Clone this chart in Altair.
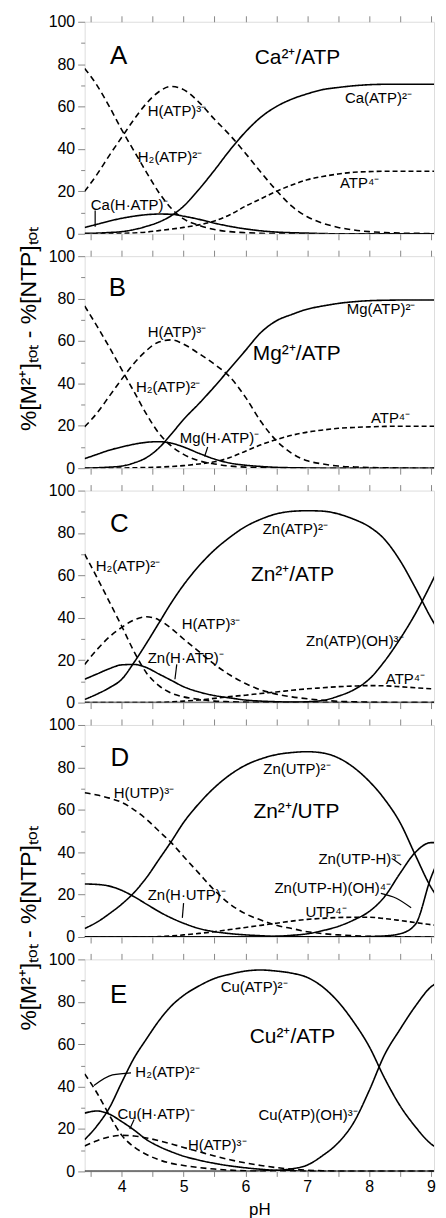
import altair as alt
import pandas as pd

# ---------------- data ----------------
PH = [3.4, 3.6, 3.8, 4.0, 4.2, 4.4, 4.6, 4.8, 5.0, 5.25, 5.5, 5.75, 6.0,
      6.25, 6.5, 6.75, 7.0, 7.25, 7.5, 7.75, 8.0, 8.25, 8.5, 8.75, 9.0, 9.1]

Z9 = [0] * 9

# Panel A  Ca2+/ATP
A_CaATP = [0.2, 0.3, 0.6, 1.0, 2.0, 3.5, 5.5, 8.5, 13, 21, 30, 39.5, 48, 55, 60, 63.5, 66,
           68, 69, 69.8, 70.3, 70.5, 70.5, 70.5, 70.5, 70.5]
A_HATP = [20, 28, 37, 45.5, 54, 61.5, 67, 69.5, 68, 62, 54, 46.5, 38, 29, 20.5, 13, 8,
          5, 3, 1.8, 1, 0.6, 0.3, 0.2, 0.1, 0.1]
A_H2ATP = [78, 70, 60, 49, 39, 29, 19.5, 12, 7, 4, 2, 1, 0.5, 0.2, 0.1, 0, 0] + Z9
A_ATP4 = [0, 0, 0.1, 0.2, 0.4, 0.8, 1.5, 2.2, 3, 4.2, 6, 9, 13, 16.5, 20, 23, 25.5,
          27, 28.2, 29, 29.3, 29.5, 29.5, 29.5, 29.5, 29.5]
A_CaHATP = [3, 4.5, 6, 7.3, 8.3, 9, 9.3, 9.2, 8.3, 6.8, 5, 3.5, 2.3, 1.4, 0.8, 0.5, 0.3,
            0.1, 0, 0, 0, 0, 0, 0, 0, 0]

# Panel B  Mg2+/ATP
B_MgATP = [0, 0.2, 0.5, 1, 2.5, 5, 9.5, 16, 23, 30.5, 38.5, 47, 55.5, 64, 69.5, 72.5, 75,
           76.5, 77.7, 78.5, 79, 79.2, 79.3, 79.3, 79.3, 79.3]
B_HATP = [19.5, 26, 34, 42, 49.5, 55.5, 59.5, 60.5, 58.5, 54, 49, 43, 33.5, 22, 13, 7, 3.5,
          2, 1, 0.6, 0.3, 0.2, 0.1, 0, 0, 0]
B_H2ATP = [76.5, 67, 57, 46.5, 36, 25.5, 16.5, 10.5, 6.5, 3.5, 2, 1, 0.5, 0.3, 0.1, 0, 0] + Z9
B_ATP4 = [0, 0, 0, 0.1, 0.2, 0.3, 0.5, 0.8, 1.2, 2, 3, 5, 8, 11, 13.5, 15.5, 17,
          18, 18.8, 19.2, 19.5, 19.7, 19.8, 19.8, 19.8, 19.8]
B_MgHATP = [4.5, 6.5, 8.5, 10, 11.3, 12.2, 12.5, 11.8, 10, 7, 4.3, 2.4, 1.4, 0.8, 0.4, 0.2, 0.1] + Z9

# Panel C  Zn2+/ATP
C_ZnATP = [1.5, 4, 7, 11, 19, 28, 37.5, 47, 55.5, 64.5, 72, 78, 83, 86.5, 89, 90.2, 90.5,
           90.3, 89, 86.5, 83, 77, 67, 54, 40, 35]
C_ZnATPOH = Z9 + [0, 0, 0, 0, 0, 0.1, 0.2, 0.4, 1, 3, 6, 11, 19.5, 30, 42, 56, 62]
C_H2ATP = [70, 59, 47.5, 36, 24, 14, 8, 4.5, 2.7, 1.5, 0.7, 0.4, 0.2, 0.1, 0, 0, 0] + Z9
C_HATP = [18, 25, 31, 35.5, 39, 40.5, 39, 35, 30, 24, 18, 13, 9, 6, 4, 2.7, 1.8,
          1.1, 0.6, 0.4, 0.2, 0.1, 0, 0, 0, 0]
C_ZnHATP = [11, 13.5, 16, 17.8, 18, 16.5, 13.5, 10.5, 7.5, 5, 3.3, 2.2, 1.2, 0.7, 0.4, 0.2, 0.1] + Z9
C_ATP4 = [0, 0, 0, 0, 0, 0, 0.1, 0.3, 0.7, 1.2, 2, 2.8, 3.5, 4.3, 5, 5.8, 6.5,
          7, 7.5, 7.8, 8, 7.9, 7.5, 7, 6.5, 6.3]

# Panel D  Zn2+/UTP
D_ZnUTP = [4, 7, 11, 15.5, 21, 28, 36.5, 45, 54, 63, 70.5, 76.5, 81, 84, 86, 87, 87.4,
           86.8, 84.5, 80, 73.5, 65, 54, 38.5, 23.5, 19]
D_ZnUTPH = Z9 + [0, 0, 0, 0, 0, 0.3, 0.8, 1.5, 3, 5, 8, 12, 19, 30, 40, 44.5, 44.5]
D_ZnUTPHOH = Z9 + [0] * 8 + [0, 0, 0, 0.2, 0.5, 1.5, 6, 28, 35]
D_HUTP = [68, 67, 65.5, 63.5, 60, 55.5, 50, 44.5, 38, 30, 22, 15.5, 11, 8, 5.5, 4, 2.5,
          1.6, 1, 0.6, 0.3, 0.2, 0.1, 0, 0, 0]
D_ZnHUTP = [25, 24.8, 24, 22, 19, 15.5, 12, 9, 6.5, 4, 2.5, 1.6, 1, 0.6, 0.3, 0.2, 0.1] + Z9
D_UTP4 = [0, 0, 0, 0, 0, 0, 0.2, 0.5, 1, 1.7, 2.5, 3.5, 4.5, 5.5, 6.5, 7.5, 8.3,
          8.8, 9.2, 9.3, 9.3, 8.7, 7.8, 6.8, 5.8, 5.5]

# Panel E  Cu2+/ATP
E_CuATP = [15, 21.5, 30, 42, 53.5, 62.5, 71, 78, 83, 87.5, 91, 93, 94.5, 95, 94.5, 93.5, 91.5,
           87, 80, 70.5, 59, 44, 31, 21, 13, 11]
E_CuATPOH = Z9 + [0, 0, 0, 0, 0.2, 0.5, 1.2, 3, 7.5, 13.5, 23, 38, 55, 67, 78, 87, 89]
E_H2ATP = [46, 37, 26.5, 17, 11.5, 8, 5.5, 3.8, 2.8, 1.8, 1.1, 0.6, 0.3, 0.1, 0, 0, 0] + Z9
E_CuHATP = [27.5, 28.5, 27, 23.5, 19.5, 15, 11.8, 9.3, 7.2, 5.3, 3.8, 2.6, 1.7, 1, 0.5, 0.3, 0.1] + Z9
E_HATP = [12, 14.5, 16.3, 17, 16.7, 15.8, 14.5, 13, 11.3, 9.3, 7.3, 5.5, 4, 2.8, 1.8, 1.1, 0.6,
          0.3, 0.1, 0, 0, 0, 0, 0, 0, 0]

# annotation labels: (text, pH at left edge, value at middle, font size)
A_LABELS = [("A", 3.81, 84, 26), ("Ca²⁺/ATP", 6.15, 83, 21), ("Ca(ATP)²⁻", 7.61, 64, 15),
            ("H(ATP)³⁻", 4.42, 58, 15), ("H₂(ATP)²⁻", 4.26, 36.4, 15), ("ATP⁴⁻", 7.53, 24, 15),
            ("Ca(H·ATP)⁻", 3.5, 13.6, 15)]
B_LABELS = [("B", 3.79, 85, 26), ("Mg(ATP)²⁻", 7.64, 75, 15), ("Mg²⁺/ATP", 6.12, 54, 21),
            ("H(ATP)³⁻", 4.42, 64, 15), ("H₂(ATP)²⁻", 4.23, 38.5, 15), ("ATP⁴⁻", 8.03, 23.7, 15),
            ("Mg(H·ATP)⁻", 4.94, 14.3, 15)]
C_LABELS = [("C", 3.81, 84, 26), ("Zn(ATP)²⁻", 6.28, 82, 15), ("Zn²⁺/ATP", 6.09, 60, 21),
            ("H₂(ATP)²⁻", 3.58, 64.6, 15), ("H(ATP)³⁻", 4.97, 37, 15),
            ("Zn(ATP)(OH)³⁻", 6.98, 29, 15), ("Zn(H·ATP)⁻", 4.42, 20.8, 15), ("ATP⁴⁻", 8.27, 11, 15)]
D_LABELS = [("D", 3.82, 84.4, 26), ("Zn(UTP)²⁻", 6.29, 79, 15), ("Zn²⁺/UTP", 6.13, 59, 21),
            ("H(UTP)³⁻", 3.87, 68, 15), ("Zn(H·UTP)⁻", 4.42, 19.6, 15),
            ("Zn(UTP-H)³⁻", 7.18, 37, 15), ("Zn(UTP-H)(OH)⁴⁻", 6.47, 23, 15), ("UTP⁴⁻", 6.97, 11.6, 15)]
E_LABELS = [("E", 3.81, 83, 26), ("Cu(ATP)²⁻", 5.6, 87, 15), ("Cu²⁺/ATP", 6.07, 63.4, 21),
            ("H₂(ATP)²⁻", 4.22, 47, 15), ("Cu(H·ATP)⁻", 3.93, 27, 15), ("H(ATP)³⁻", 5.07, 12.3, 15),
            ("Cu(ATP)(OH)³⁻", 6.21, 26.4, 15)]

# pointer lines from labels to curves: (id, pH, value)
A_PTR = [(1, 3.57, 11), (1, 3.57, 3.3)]
B_PTR = [(1, 5.39, 10), (1, 5.34, 5.5)]
C_PTR = [(1, 4.89, 18), (1, 4.86, 11)]
D_PTR = [(1, 5.0, 16), (1, 4.98, 9), (2, 8.39, 36.7), (2, 8.52, 34),
         (3, 8.19, 20.6), (3, 8.44, 18.3), (3, 8.68, 13.8)]
E_PTR = [(1, 4.15, 46.5), (1, 3.85, 45.5), (1, 3.55, 40.5), (2, 4.2, 24.5), (2, 4.13, 20)]

X_TICKS = [3.5, 4.0, 4.5, 5.0, 5.5, 6.0, 6.5, 7.0, 7.5, 8.0, 8.5, 9.0]
Y_TICKS = [0, 10, 20, 30, 40, 50, 60, 70, 80, 90, 100]
Y_TITLE = "%[M²⁺]ₜₒₜ - %[NTP]ₜₒₜ"

FONT = "Liberation Sans"
W, H = 351, 213
X_DOMAIN = [3.4, 9.05]


def make_panel(series, labels, pointers, last=False, ytitle_y=None):
    rows = []
    for name, style, vals in series:
        for p, v in zip(PH, vals):
            rows.append({"pH": p, "value": v, "species": name, "style": style})
    df = pd.DataFrame(rows)

    xs = alt.Scale(domain=X_DOMAIN, nice=False, zero=False)
    ys = alt.Scale(domain=[0, 100], nice=False)
    if last:
        xaxis = alt.Axis(values=X_TICKS, title="pH", domain=False, grid=False, tickSize=5,
                         labelExpr="datum.value % 1 === 0 ? format(datum.value, 'd') : ''",
                         labelFontSize=16, labelPadding=2, titleFontSize=17,
                         titleFontWeight="normal", titlePadding=7)
    else:
        xaxis = alt.Axis(values=X_TICKS, title=None, labels=False, domain=False, grid=False,
                         tickSize=6)
    yaxis = alt.Axis(values=Y_TICKS, title=None, domain=False, grid=False,
                     labelExpr="datum.value % 20 === 0 ? datum.label : ''",
                     tickSize={"condition": {"test": "datum.value % 20 === 0", "value": 7}, "value": 4},
                     labelFontSize=16, labelPadding=3)
    X = alt.X("pH:Q", scale=xs, axis=xaxis)
    Y = alt.Y("value:Q", scale=ys, axis=yaxis)

    lines = alt.Chart(df).mark_line(color="black", strokeWidth=1.6, interpolate="monotone",
                                    clip=True).encode(
        x=X, y=Y, detail="species:N",
        strokeDash=alt.StrokeDash("style:N", legend=None,
                                  scale=alt.Scale(domain=["solid", "dash", "short"],
                                                  range=[[1, 0], [6, 4], [5, 3]])))
    ldf = pd.DataFrame(labels, columns=["text", "pH", "value", "fs"])
    texts = alt.Chart(ldf).mark_text(align="left", baseline="middle", color="black",
                                     font=FONT).encode(
        x=X, y=Y, text="text:N", size=alt.Size("fs:Q", scale=None))
    pdf = pd.DataFrame(pointers, columns=["pid", "pH", "value"])
    pdf["ord"] = range(len(pdf))
    ptr = alt.Chart(pdf).mark_line(color="black", strokeWidth=1.2, interpolate="monotone").encode(
        x=X, y=Y, detail="pid:N", order="ord:Q")
    layers = [lines, texts, ptr]
    if ytitle_y is not None:
        tdf = pd.DataFrame({"t": [Y_TITLE]})
        layers.append(alt.Chart(tdf).mark_text(angle=270, align="center", baseline="middle",
                                               fontSize=23, font=FONT, color="black").encode(
            text="t:N", x=alt.value(-56), y=alt.value(ytitle_y)))
    inner = alt.layer(*layers)
    top = alt.Chart(df).mark_rule(opacity=0).encode(
        x=alt.X("pH:Q", scale=xs,
                axis=alt.Axis(orient="top", values=X_TICKS, labels=False, title=None,
                              domain=False, grid=False, tickSize=6)))
    return alt.layer(inner, top).resolve_axis(x="independent").properties(width=W, height=H)


pA = make_panel([("Ca(ATP)", "solid", A_CaATP), ("H(ATP)", "dash", A_HATP),
                 ("H2(ATP)", "dash", A_H2ATP), ("ATP", "short", A_ATP4),
                 ("Ca(H-ATP)", "solid", A_CaHATP)], A_LABELS, A_PTR)
pB = make_panel([("Mg(ATP)", "solid", B_MgATP), ("H(ATP)", "dash", B_HATP),
                 ("H2(ATP)", "dash", B_H2ATP), ("ATP", "short", B_ATP4),
                 ("Mg(H-ATP)", "solid", B_MgHATP)], B_LABELS, B_PTR, ytitle_y=73)
pC = make_panel([("Zn(ATP)", "solid", C_ZnATP), ("Zn(ATP)(OH)", "solid", C_ZnATPOH),
                 ("H2(ATP)", "dash", C_H2ATP), ("H(ATP)", "dash", C_HATP),
                 ("Zn(H-ATP)", "solid", C_ZnHATP), ("ATP", "short", C_ATP4)], C_LABELS, C_PTR)
pD = make_panel([("Zn(UTP)", "solid", D_ZnUTP), ("Zn(UTP-H)", "solid", D_ZnUTPH),
                 ("Zn(UTP-H)(OH)", "solid", D_ZnUTPHOH), ("H(UTP)", "dash", D_HUTP),
                 ("Zn(H-UTP)", "solid", D_ZnHUTP), ("UTP", "short", D_UTP4)], D_LABELS, D_PTR)
pE = make_panel([("Cu(ATP)", "solid", E_CuATP), ("Cu(ATP)(OH)", "solid", E_CuATPOH),
                 ("H2(ATP)", "dash", E_H2ATP), ("Cu(H-ATP)", "solid", E_CuHATP),
                 ("H(ATP)", "dash", E_HATP)], E_LABELS, E_PTR, last=True, ytitle_y=-31)

chart = alt.vconcat(pA, pB, pC, pD, pE, spacing=22.5, bounds="flush").properties(
    padding={"left": 9, "top": 2, "right": 0, "bottom": 0},
    background="white",
).configure_view(stroke="black", strokeWidth=2).configure_axis(
    labelFont=FONT, titleFont=FONT, labelColor="black", titleColor="black",
    tickColor="black", tickWidth=1.5, grid=False,
).configure(font=FONT)

chart.save("out.html", embed_options={"renderer": "svg", "actions": False})
